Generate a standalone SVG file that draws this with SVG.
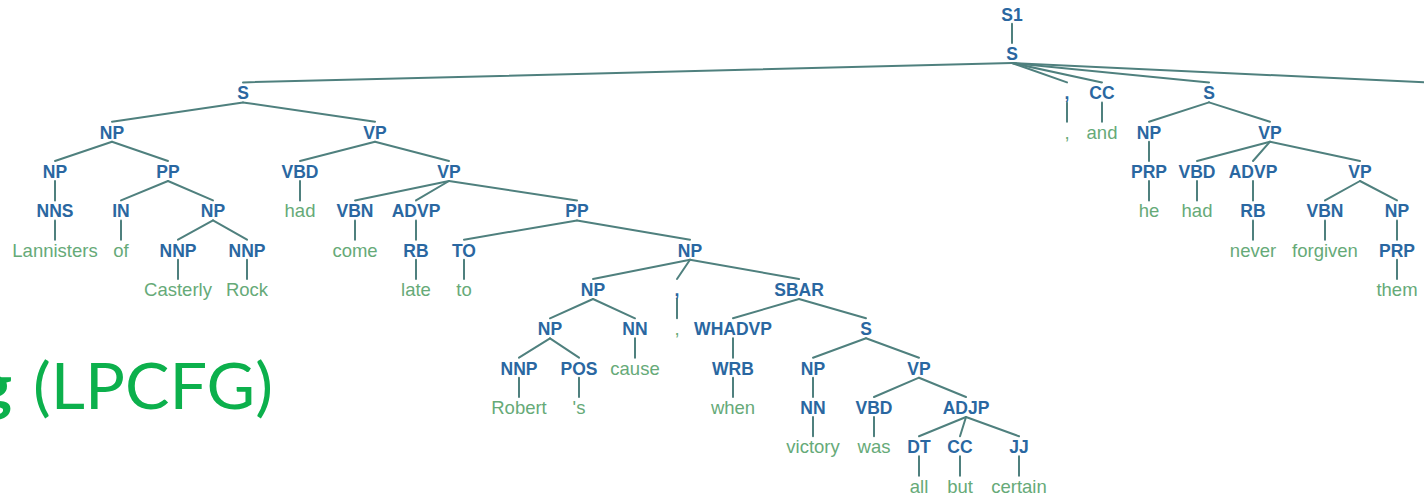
<svg xmlns="http://www.w3.org/2000/svg" width="1424" height="495" viewBox="0 0 1424 495">
  <style>
    .t { font-family: "Liberation Sans", Arial, sans-serif; font-weight: bold; font-size: 17.5px; fill: #2a67a1; text-anchor: middle; }
    .w { font-family: "Liberation Sans", Arial, sans-serif; font-size: 18.5px; fill: #66aa78; text-anchor: middle; }
    .title { font-family: "Lato", "Liberation Sans", sans-serif; font-size: 64px; fill: #0cb04c; }
    #edges line { stroke: #4f807e; stroke-width: 2; stroke-linecap: round; }
  </style>
  <rect width="1424" height="495" fill="#ffffff"/>

  <!-- tree edges: parent bottom to child top -->
  <g id="edges">
    <line x1="1012" y1="23.7" x2="1012" y2="43"/>
    <line x1="1012" y1="63" x2="243" y2="82.4"/>
    <line x1="1012" y1="63" x2="1067" y2="82.4"/>
    <line x1="1012" y1="63" x2="1102" y2="82.4"/>
    <line x1="1012" y1="63" x2="1209" y2="82.4"/>
    <line x1="1012" y1="63" x2="1440" y2="83"/>
    <line x1="243" y1="102.4" x2="112" y2="121.7"/>
    <line x1="243" y1="102.4" x2="375" y2="121.7"/>
    <line x1="1067" y1="102.4" x2="1067" y2="121.7"/>
    <line x1="1102" y1="102.4" x2="1102" y2="121.7"/>
    <line x1="1209" y1="102.4" x2="1149" y2="121.7"/>
    <line x1="1209" y1="102.4" x2="1270" y2="121.7"/>
    <line x1="112" y1="141.7" x2="55" y2="161"/>
    <line x1="112" y1="141.7" x2="168" y2="161"/>
    <line x1="375" y1="141.7" x2="300" y2="161"/>
    <line x1="375" y1="141.7" x2="449" y2="161"/>
    <line x1="1149" y1="141.7" x2="1149" y2="161"/>
    <line x1="1270" y1="141.7" x2="1197" y2="161"/>
    <line x1="1270" y1="141.7" x2="1253" y2="161"/>
    <line x1="1270" y1="141.7" x2="1360" y2="161"/>
    <line x1="55" y1="181" x2="55" y2="200.4"/>
    <line x1="168" y1="181" x2="121" y2="200.4"/>
    <line x1="168" y1="181" x2="213" y2="200.4"/>
    <line x1="300" y1="181" x2="300" y2="200.4"/>
    <line x1="449" y1="181" x2="355" y2="200.4"/>
    <line x1="449" y1="181" x2="416" y2="200.4"/>
    <line x1="449" y1="181" x2="577" y2="200.4"/>
    <line x1="1149" y1="181" x2="1149" y2="200.4"/>
    <line x1="1197" y1="181" x2="1197" y2="200.4"/>
    <line x1="1253" y1="181" x2="1253" y2="200.4"/>
    <line x1="1360" y1="181" x2="1325" y2="200.4"/>
    <line x1="1360" y1="181" x2="1397" y2="200.4"/>
    <line x1="55" y1="220.4" x2="55" y2="239.7"/>
    <line x1="121" y1="220.4" x2="121" y2="239.7"/>
    <line x1="213" y1="220.4" x2="178" y2="239.7"/>
    <line x1="213" y1="220.4" x2="247" y2="239.7"/>
    <line x1="355" y1="220.4" x2="355" y2="239.7"/>
    <line x1="416" y1="220.4" x2="416" y2="239.7"/>
    <line x1="577" y1="220.4" x2="464" y2="239.7"/>
    <line x1="577" y1="220.4" x2="690" y2="239.7"/>
    <line x1="1253" y1="220.4" x2="1253" y2="239.7"/>
    <line x1="1325" y1="220.4" x2="1325" y2="239.7"/>
    <line x1="1397" y1="220.4" x2="1397" y2="239.7"/>
    <line x1="178" y1="259.7" x2="178" y2="279"/>
    <line x1="247" y1="259.7" x2="247" y2="279"/>
    <line x1="416" y1="259.7" x2="416" y2="279"/>
    <line x1="464" y1="259.7" x2="464" y2="279"/>
    <line x1="690" y1="259.7" x2="593" y2="279"/>
    <line x1="690" y1="259.7" x2="677" y2="279"/>
    <line x1="690" y1="259.7" x2="799" y2="279"/>
    <line x1="1397" y1="259.7" x2="1397" y2="279"/>
    <line x1="593" y1="299" x2="550" y2="318.3"/>
    <line x1="593" y1="299" x2="635" y2="318.3"/>
    <line x1="677" y1="299" x2="677" y2="318.3"/>
    <line x1="799" y1="299" x2="733" y2="318.3"/>
    <line x1="799" y1="299" x2="866" y2="318.3"/>
    <line x1="550" y1="338.3" x2="519" y2="357.7"/>
    <line x1="550" y1="338.3" x2="579" y2="357.7"/>
    <line x1="635" y1="338.3" x2="635" y2="357.7"/>
    <line x1="733" y1="338.3" x2="733" y2="357.7"/>
    <line x1="866" y1="338.3" x2="813" y2="357.7"/>
    <line x1="866" y1="338.3" x2="919" y2="357.7"/>
    <line x1="519" y1="377.7" x2="519" y2="397"/>
    <line x1="579" y1="377.7" x2="579" y2="397"/>
    <line x1="733" y1="377.7" x2="733" y2="397"/>
    <line x1="813" y1="377.7" x2="813" y2="397"/>
    <line x1="919" y1="377.7" x2="874" y2="397"/>
    <line x1="919" y1="377.7" x2="966" y2="397"/>
    <line x1="813" y1="417" x2="813" y2="436.3"/>
    <line x1="874" y1="417" x2="874" y2="436.3"/>
    <line x1="966" y1="417" x2="919" y2="436.3"/>
    <line x1="966" y1="417" x2="960" y2="436.3"/>
    <line x1="966" y1="417" x2="1019" y2="436.3"/>
    <line x1="919" y1="456.3" x2="919" y2="475.7"/>
    <line x1="960" y1="456.3" x2="960" y2="475.7"/>
    <line x1="1019" y1="456.3" x2="1019" y2="475.7"/>
  </g>

  <!-- level 0-1 -->
  <g id="n0"><text class="t" x="1012" y="20.7">S1</text></g>
  <g id="n1"><text class="t" x="1012" y="60">S</text></g>
  <!-- level 2 -->
  <g id="n2"><text class="t" x="243" y="99.4">S</text></g>
  <g id="n3"><text class="t" x="1067" y="99.4">,</text></g>
  <g id="n4"><text class="t" x="1102" y="99.4">CC</text></g>
  <g id="n5"><text class="t" x="1209" y="99.4">S</text></g>
  <!-- level 3 -->
  <g id="n6"><text class="t" x="112" y="138.7">NP</text></g>
  <g id="n7"><text class="t" x="375" y="138.7">VP</text></g>
  <g id="n8"><text class="w" x="1067" y="138.7">,</text></g>
  <g id="n9"><text class="w" x="1102" y="138.7">and</text></g>
  <g id="n10"><text class="t" x="1149" y="138.7">NP</text></g>
  <g id="n11"><text class="t" x="1270" y="138.7">VP</text></g>
  <!-- level 4 -->
  <g id="n12"><text class="t" x="55" y="178">NP</text></g>
  <g id="n13"><text class="t" x="168" y="178">PP</text></g>
  <g id="n14"><text class="t" x="300" y="178">VBD</text></g>
  <g id="n15"><text class="t" x="449" y="178">VP</text></g>
  <g id="n16"><text class="t" x="1149" y="178">PRP</text></g>
  <g id="n17"><text class="t" x="1197" y="178">VBD</text></g>
  <g id="n18"><text class="t" x="1253" y="178">ADVP</text></g>
  <g id="n19"><text class="t" x="1360" y="178">VP</text></g>
  <!-- level 5 -->
  <g id="n20"><text class="t" x="55" y="217.4">NNS</text></g>
  <g id="n21"><text class="t" x="121" y="217.4">IN</text></g>
  <g id="n22"><text class="t" x="213" y="217.4">NP</text></g>
  <g id="n23"><text class="w" x="300" y="217.4">had</text></g>
  <g id="n24"><text class="t" x="355" y="217.4">VBN</text></g>
  <g id="n25"><text class="t" x="416" y="217.4">ADVP</text></g>
  <g id="n26"><text class="t" x="577" y="217.4">PP</text></g>
  <g id="n27"><text class="w" x="1149" y="217.4">he</text></g>
  <g id="n28"><text class="w" x="1197" y="217.4">had</text></g>
  <g id="n29"><text class="t" x="1253" y="217.4">RB</text></g>
  <g id="n30"><text class="t" x="1325" y="217.4">VBN</text></g>
  <g id="n31"><text class="t" x="1397" y="217.4">NP</text></g>
  <!-- level 6 -->
  <g id="n32"><text class="w" x="55" y="256.7">Lannisters</text></g>
  <g id="n33"><text class="w" x="121" y="256.7">of</text></g>
  <g id="n34"><text class="t" x="178" y="256.7">NNP</text></g>
  <g id="n35"><text class="t" x="247" y="256.7">NNP</text></g>
  <g id="n36"><text class="w" x="355" y="256.7">come</text></g>
  <g id="n37"><text class="t" x="416" y="256.7">RB</text></g>
  <g id="n38"><text class="t" x="464" y="256.7">TO</text></g>
  <g id="n39"><text class="t" x="690" y="256.7">NP</text></g>
  <g id="n40"><text class="w" x="1253" y="256.7">never</text></g>
  <g id="n41"><text class="w" x="1325" y="256.7">forgiven</text></g>
  <g id="n42"><text class="t" x="1397" y="256.7">PRP</text></g>
  <!-- level 7 -->
  <g id="n43"><text class="w" x="178" y="296">Casterly</text></g>
  <g id="n44"><text class="w" x="247" y="296">Rock</text></g>
  <g id="n45"><text class="w" x="416" y="296">late</text></g>
  <g id="n46"><text class="w" x="464" y="296">to</text></g>
  <g id="n47"><text class="t" x="593" y="296">NP</text></g>
  <g id="n48"><text class="t" x="677" y="296">,</text></g>
  <g id="n49"><text class="t" x="799" y="296">SBAR</text></g>
  <g id="n50"><text class="w" x="1397" y="296">them</text></g>
  <!-- level 8 -->
  <g id="n51"><text class="t" x="550" y="335.3">NP</text></g>
  <g id="n52"><text class="t" x="635" y="335.3">NN</text></g>
  <g id="n53"><text class="w" x="677" y="335.3">,</text></g>
  <g id="n54"><text class="t" x="733" y="335.3">WHADVP</text></g>
  <g id="n55"><text class="t" x="866" y="335.3">S</text></g>
  <!-- level 9 -->
  <g id="n56"><text class="t" x="519" y="374.7">NNP</text></g>
  <g id="n57"><text class="t" x="579" y="374.7">POS</text></g>
  <g id="n58"><text class="w" x="635" y="374.7">cause</text></g>
  <g id="n59"><text class="t" x="733" y="374.7">WRB</text></g>
  <g id="n60"><text class="t" x="813" y="374.7">NP</text></g>
  <g id="n61"><text class="t" x="919" y="374.7">VP</text></g>
  <!-- level 10 -->
  <g id="n62"><text class="w" x="519" y="414">Robert</text></g>
  <g id="n63"><text class="w" x="579" y="414">'s</text></g>
  <g id="n64"><text class="w" x="733" y="414">when</text></g>
  <g id="n65"><text class="t" x="813" y="414">NN</text></g>
  <g id="n66"><text class="t" x="874" y="414">VBD</text></g>
  <g id="n67"><text class="t" x="966" y="414">ADJP</text></g>
  <!-- level 11 -->
  <g id="n68"><text class="w" x="813" y="453.3">victory</text></g>
  <g id="n69"><text class="w" x="874" y="453.3">was</text></g>
  <g id="n70"><text class="t" x="919" y="453.3">DT</text></g>
  <g id="n71"><text class="t" x="960" y="453.3">CC</text></g>
  <g id="n72"><text class="t" x="1019" y="453.3">JJ</text></g>
  <!-- level 12 -->
  <g id="n73"><text class="w" x="919" y="492.7">all</text></g>
  <g id="n74"><text class="w" x="960" y="492.7">but</text></g>
  <g id="n75"><text class="w" x="1019" y="492.7">certain</text></g>

  <!-- heading fragment (runs in from the left edge) -->
  <g id="heading">
    <text class="title" x="12" y="409" text-anchor="end" font-weight="bold">g</text>
    <text class="title" x="33" y="409" textLength="240" lengthAdjust="spacingAndGlyphs">(LPCFG)</text>
  </g>
</svg>
